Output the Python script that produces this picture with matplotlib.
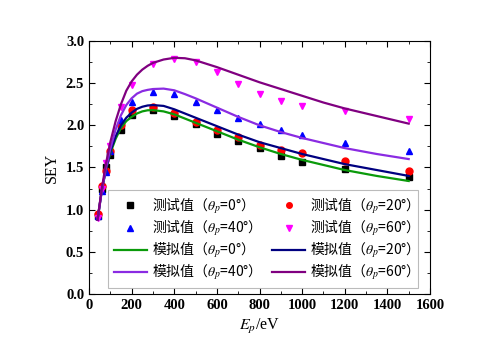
import numpy as np
import matplotlib
matplotlib.use("Agg")
import matplotlib.pyplot as plt
from matplotlib.ticker import MultipleLocator
from matplotlib.font_manager import FontProperties

plt.rcParams['font.family'] = ['Liberation Serif', 'Noto Sans CJK SC']
plt.rcParams['mathtext.fontset'] = 'stix'

# measured points (E_p in eV)
ep_meas = [40, 60, 80, 100, 150, 200, 300, 400, 500, 600, 700, 800, 900, 1000, 1200, 1500]
sey_0 = [0.93, 1.25, 1.50, 1.65, 1.94, 2.12, 2.18, 2.11, 2.01, 1.90, 1.82, 1.73, 1.64, 1.57, 1.48, 1.39]
sey_20 = [0.95, 1.28, 1.46, 1.70, 2.00, 2.18, 2.22, 2.15, 2.04, 1.94, 1.86, 1.77, 1.71, 1.67, 1.58, 1.46]
sey_40 = [0.92, 1.22, 1.45, 1.69, 2.06, 2.28, 2.40, 2.37, 2.28, 2.18, 2.09, 2.01, 1.95, 1.88, 1.79, 1.69]
sey_60 = [0.90, 1.25, 1.55, 1.75, 2.22, 2.48, 2.73, 2.79, 2.75, 2.63, 2.49, 2.37, 2.29, 2.23, 2.17, 2.07]

# simulated curves
ep_sim = [40, 60, 80, 100, 125, 150, 175, 200, 225, 250, 275, 300, 350, 400, 450, 500,
          600, 700, 800, 900, 1000, 1100, 1200, 1350, 1500]
sim_0 = [0.88, 1.23, 1.48, 1.67, 1.84, 1.97, 2.05, 2.10, 2.14, 2.165, 2.178, 2.18, 2.165, 2.13, 2.08, 2.03,
         1.93, 1.83, 1.74, 1.66, 1.59, 1.53, 1.47, 1.40, 1.34]
sim_20 = [0.88, 1.23, 1.49, 1.69, 1.87, 2.00, 2.09, 2.15, 2.195, 2.22, 2.235, 2.24, 2.23, 2.19, 2.14, 2.09,
          1.99, 1.89, 1.80, 1.73, 1.66, 1.60, 1.54, 1.47, 1.40]
sim_40 = [0.88, 1.22, 1.50, 1.72, 1.95, 2.12, 2.24, 2.32, 2.375, 2.405, 2.42, 2.43, 2.435, 2.415, 2.37, 2.32,
          2.21, 2.10, 2.00, 1.92, 1.85, 1.79, 1.73, 1.66, 1.60]
sim_60 = [0.88, 1.25, 1.55, 1.80, 2.05, 2.25, 2.41, 2.52, 2.60, 2.66, 2.705, 2.74, 2.78, 2.80, 2.795, 2.77,
          2.69, 2.60, 2.51, 2.43, 2.35, 2.27, 2.20, 2.11, 2.02]

angles = ['0', '20', '40', '60']
meas_series = [sey_0, sey_20, sey_40, sey_60]
sim_series = [sim_0, sim_20, sim_40, sim_60]
mk_colors = ['black', '#ff0000', '#0000ff', '#ff00ff']
mk_styles = ['s', 'o', '^', 'v']
ln_colors = ['#0a9a0a', '#000080', '#8a2be2', '#800080']

fig = plt.figure(figsize=(5.0, 3.53), dpi=100)
ax = fig.add_axes([0.178, 0.167, 0.682, 0.717])

meas_h = []
for a, y, c, m in zip(angles, meas_series, mk_colors, mk_styles):
    h, = ax.plot(ep_meas, y, linestyle='none', marker=m, color=c, markersize=5,
                 label='测试值（$\\theta_p$=' + a + '°）')
    meas_h.append(h)

sim_h = []
for a, y, c in zip(angles, sim_series, ln_colors):
    h, = ax.plot(ep_sim, y, color=c, lw=1.6,
                 label='模拟值（$\\theta_p$=' + a + '°）')
    sim_h.append(h)

ax.set_xlim(0, 1600)
ax.set_ylim(0, 3.0)
ax.xaxis.set_major_locator(MultipleLocator(200))
ax.xaxis.set_minor_locator(MultipleLocator(100))
ax.yaxis.set_major_locator(MultipleLocator(0.5))
ax.yaxis.set_minor_locator(MultipleLocator(0.25))
ax.yaxis.set_major_formatter(plt.FormatStrFormatter('%.1f'))
ax.tick_params(which='both', direction='in', top=True, right=True)
ax.tick_params(which='major', length=4, labelsize=10.5)
ax.tick_params(which='minor', length=2)
for lab in ax.get_xticklabels() + ax.get_yticklabels():
    lab.set_fontweight('bold')

ax.set_xlabel('$E_p$/eV', fontsize=11.5)
ax.set_ylabel('SEY', fontsize=11.5)

handles = [meas_h[0], meas_h[2], sim_h[0], sim_h[2],
           meas_h[1], meas_h[3], sim_h[1], sim_h[3]]
leg_font = FontProperties(family='Noto Sans CJK SC', size=10)
leg = ax.legend(handles=handles, labels=[h.get_label() for h in handles],
                ncol=2, loc='lower left', bbox_to_anchor=(0.056, 0.024),
                borderaxespad=0, prop=leg_font, frameon=True, fancybox=False,
                edgecolor='#aaaaaa', handlelength=2.4, labelspacing=0.1,
                columnspacing=1.3, handletextpad=0.35, borderpad=0.4,
                markerscale=0.8)
leg.get_frame().set_linewidth(0.8)

fig.savefig('out.png', dpi=100)
